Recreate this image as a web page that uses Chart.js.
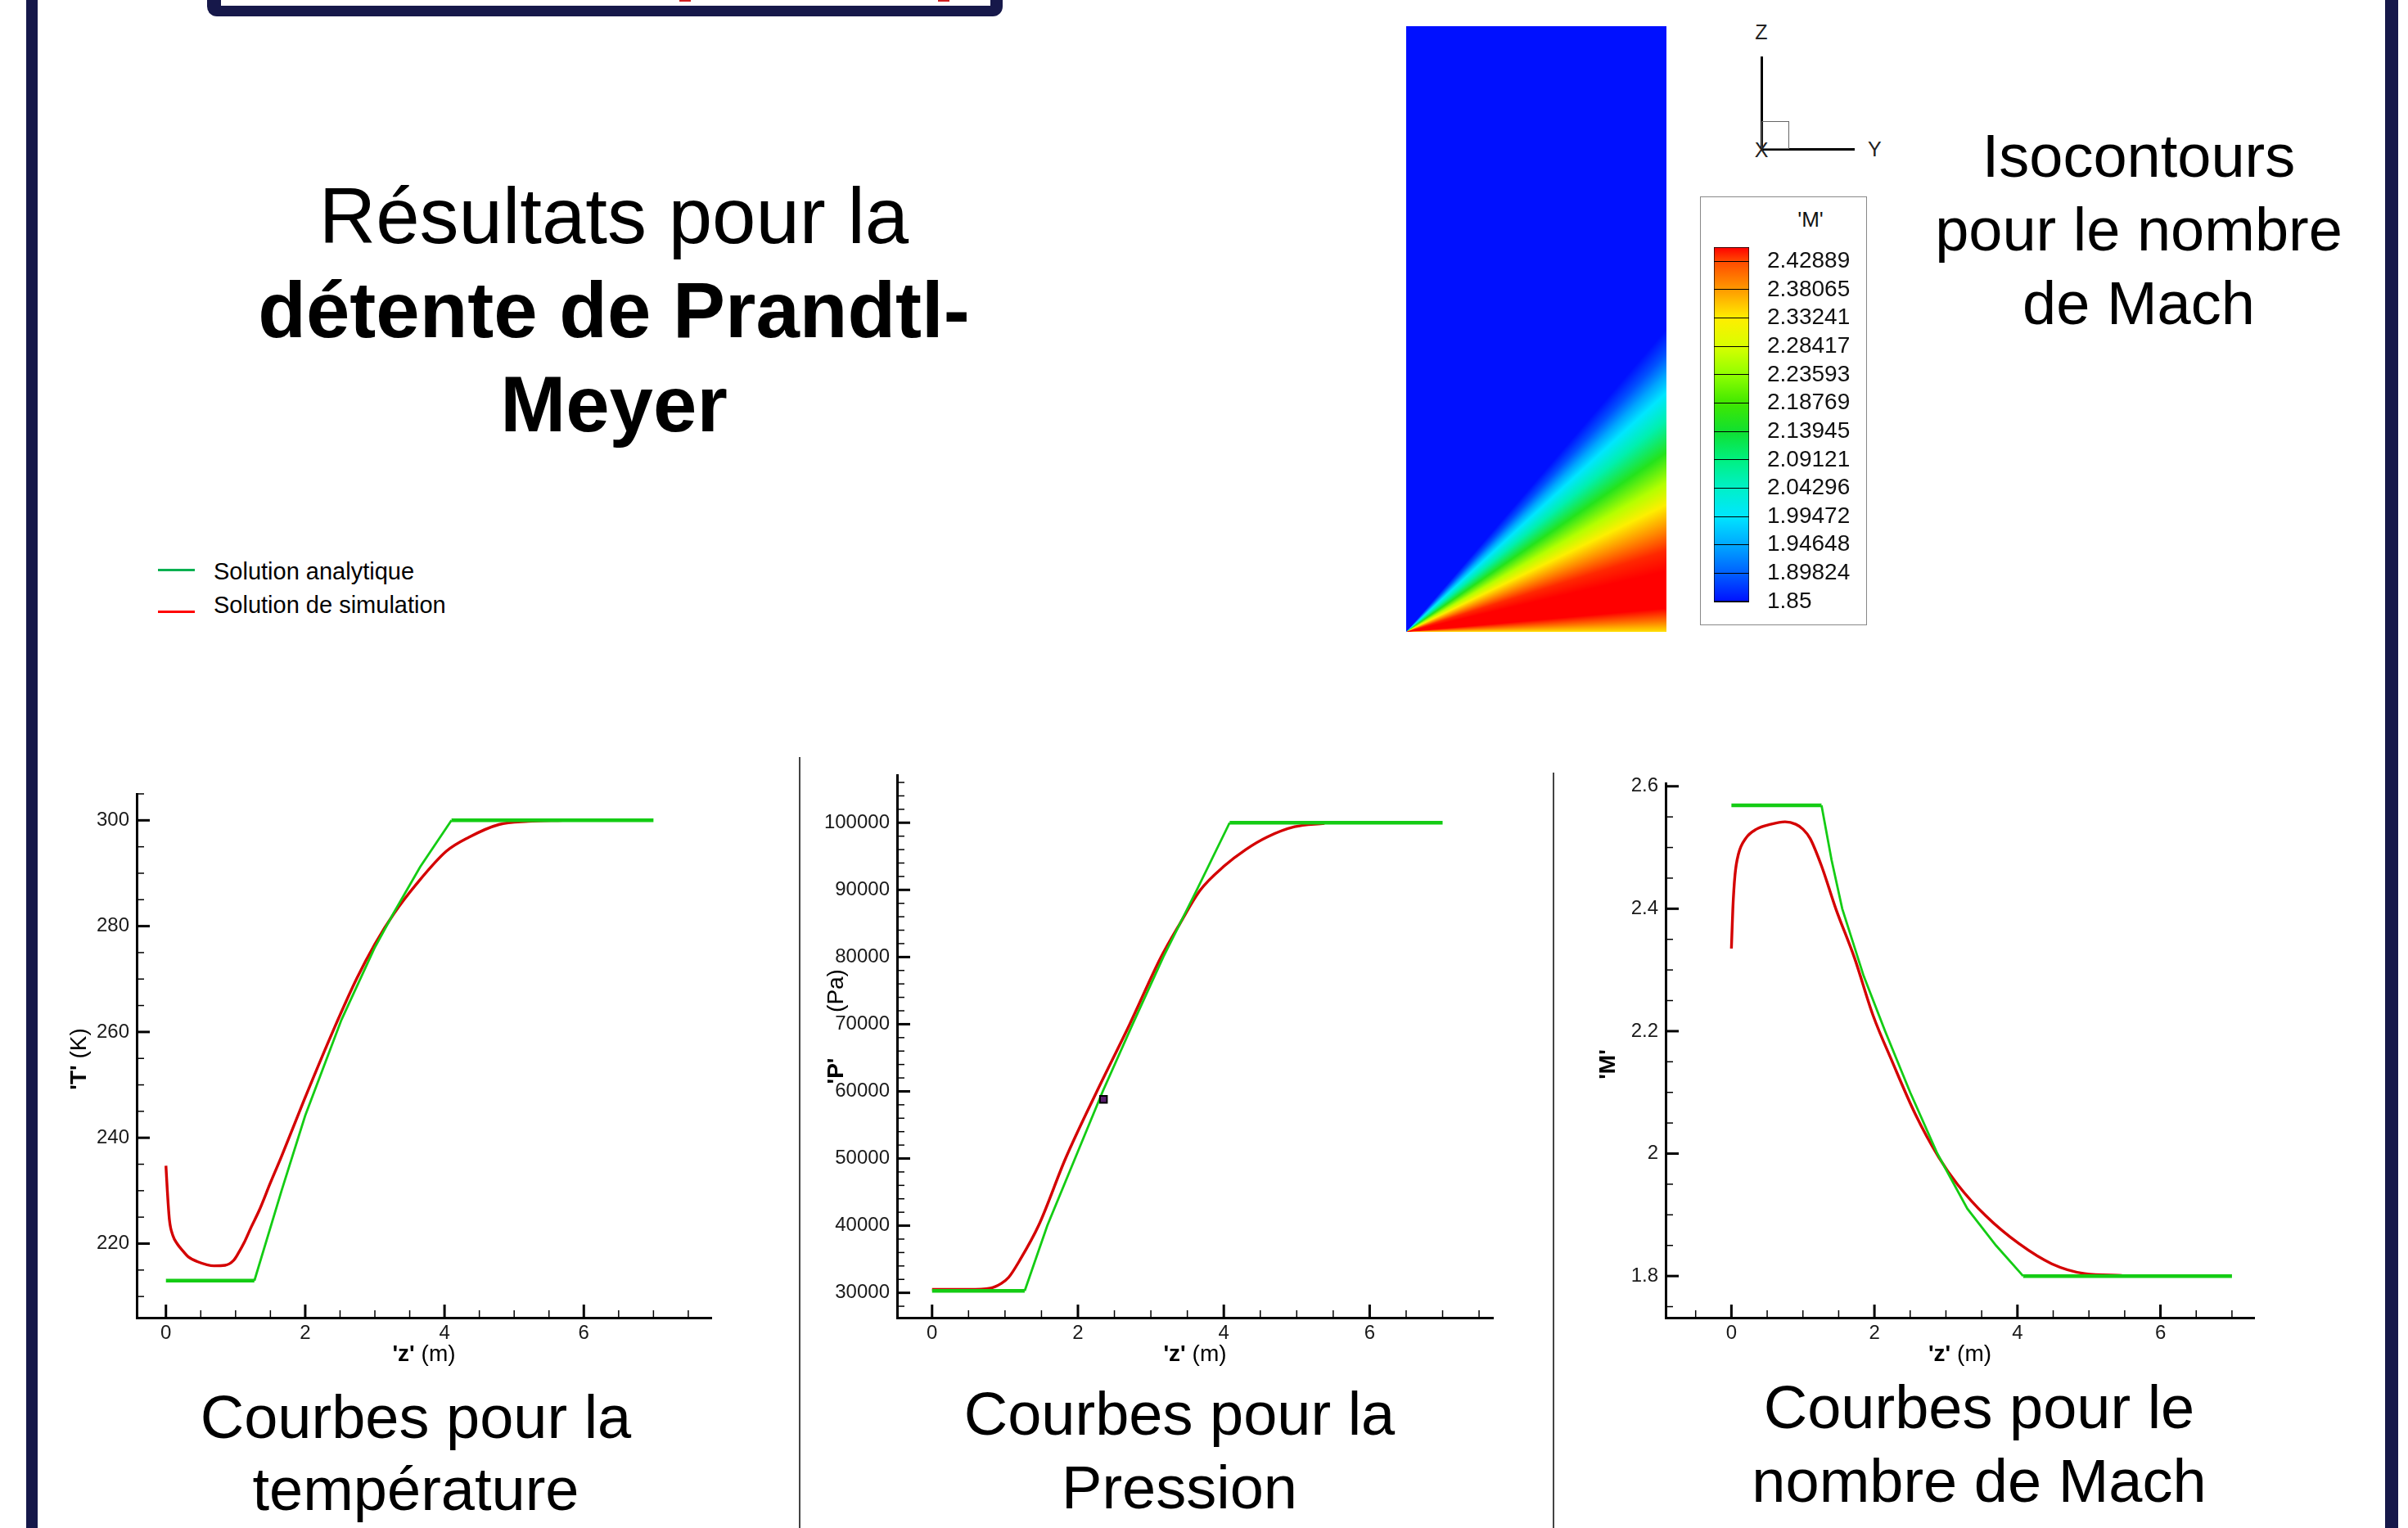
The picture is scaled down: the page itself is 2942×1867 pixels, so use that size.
<!DOCTYPE html>
<html lang="fr">
<head>
<meta charset="UTF-8">
<title>Détente de Prandtl-Meyer</title>
<script src="https://cdn.jsdelivr.net/npm/chart.js"></script>
<style>
  html, body { margin: 0; padding: 0; }
  body {
    width: 2942px; height: 1867px; position: relative; overflow: hidden;
    background: #fff; color: #000;
    font-family: 'Liberation Sans', Arial, sans-serif;
  }
  .abs { position: absolute; }
  .txt { position: absolute; text-align: center; white-space: nowrap; }
  .navy { position: absolute; top: 0; height: 1867px; background: #16184a; }
  .sep { position: absolute; width: 2px; background: #444; }
  canvas { position: absolute; }
</style>
</head>
<body>
<!-- cadre de la diapo -->
<div class="navy" style="left:32px;width:14px"></div>
<div class="navy" style="left:2914px;width:16px"></div>
<div class="abs" style="left:253px;top:-30px;width:972px;height:50px;background:#16184a;border-radius:12px"></div>
<div class="abs" style="left:270px;top:-30px;width:940px;height:37px;background:#fff"></div>
<div class="abs" style="left:830px;top:0;width:14px;height:2px;background:#d02020"></div>
<div class="abs" style="left:1146px;top:0;width:14px;height:2px;background:#d02020"></div>

<div class="txt" style="left:250px;top:206px;width:1000px;font-size:96px;line-height:115px">Résultats pour la<br><b>détente de Prandtl-<br>Meyer</b></div>
<div class="txt" style="left:2313px;top:146px;width:600px;font-size:74px;line-height:90px">Isocontours<br>pour le nombre<br>de Mach</div>

<!-- legende -->
<div class="abs" style="left:193px;top:695px;width:45px;height:3px;background:#00b050"></div>
<div class="abs" style="left:193px;top:746px;width:45px;height:3px;background:#ff0000"></div>
<div class="abs" style="left:261px;top:681px;font-size:29px;line-height:34px;white-space:nowrap">Solution analytique</div>
<div class="abs" style="left:261px;top:722px;font-size:29px;line-height:34px;white-space:nowrap">Solution de simulation</div>

<!-- isocontours -->
<canvas id="cFan" width="318" height="740" style="left:1718px;top:32px"></canvas>
<div class="abs" style="left:2151px;top:69px;width:3px;height:115px;background:#000"></div>
<div class="abs" style="left:2151px;top:181px;width:115px;height:3px;background:#000"></div>
<div class="abs" style="left:2152px;top:148px;width:34px;height:34px;border:1px solid #666;box-sizing:border-box"></div>
<div class="txt" style="left:2132px;top:24px;width:40px;font-size:25px;line-height:30px;color:#222">Z</div>
<div class="txt" style="left:2132px;top:168px;width:40px;font-size:25px;line-height:30px;color:#222">X</div>
<div class="abs" style="left:2282px;top:167px;font-size:25px;line-height:30px;color:#222">Y</div>
<div class="abs" style="left:2077px;top:240px;width:204px;height:524px;border:1.5px solid #888;box-sizing:border-box"></div>
<div class="txt" style="left:2172px;top:253px;width:80px;font-size:26px;line-height:30px;color:#111">'M'</div>
<canvas id="cBar" width="200" height="460" style="left:2088px;top:290px"></canvas>

<!-- courbes -->
<canvas id="cT" width="852" height="720" style="left:37px;top:960px"></canvas>
<canvas id="cP" width="898" height="743" style="left:946px;top:937px"></canvas>
<canvas id="cM" width="859" height="733" style="left:1915px;top:947px"></canvas>
<div class="sep" style="left:976px;top:925px;height:942px"></div>
<div class="sep" style="left:1897px;top:944px;height:923px"></div>

<div class="txt" style="left:208px;top:1688px;width:600px;font-size:74px;line-height:88px">Courbes pour la<br>température</div>
<div class="txt" style="left:1141px;top:1683px;width:600px;font-size:74px;line-height:90px">Courbes pour la<br>Pression</div>
<div class="txt" style="left:2118px;top:1675px;width:600px;font-size:74px;line-height:90px">Courbes pour le<br>nombre de Mach</div>

<script>
// ---- donnees ----
// temperature
const tTicksX = [0, 2, 4, 6];
const tLabelsX = ['0', '2', '4', '6'];
const tTicksY = [220, 240, 260, 280, 300];
const tLabelsY = ['220', '240', '260', '280', '300'];
const tAnaZ = [0, 1.27, 1.66, 2.0, 2.52, 3.0, 3.27, 3.65, 4.1, 7.0];
const tAnaVal = [213, 213, 230, 244.2, 262.3, 276, 282.5, 291.2, 300, 300];
const tSimZ = [0, 0.02, 0.05, 0.1, 0.16, 0.25, 0.32, 0.45, 0.69, 0.85, 0.97, 1.04, 1.12, 1.22, 1.34, 1.5, 1.66, 1.98, 2.41, 2.74, 3.0, 3.27, 3.6, 4.03, 4.35, 4.78, 5.2, 5.7];
const tSimVal = [234.7, 230, 224.5, 221.5, 220, 218.5, 217.5, 216.6, 215.8, 215.9, 216.8, 218.2, 220.1, 223, 226.3, 231.5, 236.5, 247, 260.5, 270.1, 276.6, 282.3, 288, 294.2, 296.8, 299.2, 299.8, 300];

// pression
const pTicksX = [0, 2, 4, 6];
const pLabelsX = ['0', '2', '4', '6'];
const pTicksY = [30000, 40000, 50000, 60000, 70000, 80000, 90000, 100000];
const pLabelsY = ['30000', '40000', '50000', '60000', '70000', '80000', '90000', '100000'];
const pAnaZ = [0, 1.27, 1.58, 1.96, 2.34, 2.75, 3.17, 3.63, 4.08, 7.0];
const pAnaVal = [30300, 30300, 40000, 50000, 60000, 70000, 80000, 90000, 100000, 100000];
const pSimZ = [0, 0.5, 0.8, 0.95, 1.05, 1.2, 1.46, 1.83, 2.26, 2.71, 3.14, 3.4, 3.68, 4.0, 4.3, 4.6, 4.97, 5.38];
const pSimVal = [30500, 30500, 30700, 31400, 32300, 34800, 40000, 50000, 60000, 70000, 80000, 85000, 90000, 93500, 96000, 97900, 99400, 99900];
const pMarkZ = [2.35];
const pMarkVal = [58800];

// nombre de Mach
const mTicksX = [0, 2, 4, 6];
const mLabelsX = ['0', '2', '4', '6'];
const mTicksY = [1.8, 2, 2.2, 2.4, 2.6];
const mLabelsY = ['1.8', '2', '2.2', '2.4', '2.6'];
const mAnaZ = [0, 1.26, 1.4, 1.55, 1.85, 2.15, 2.5, 2.88, 3.3, 3.7, 4.08, 7.0];
const mAnaVal = [2.569, 2.569, 2.48, 2.4, 2.29, 2.2, 2.1, 2.0, 1.91, 1.85, 1.8, 1.8];
const mSimZ = [0, 0.02, 0.05, 0.1, 0.2, 0.35, 0.55, 0.75, 0.9, 1.0, 1.1, 1.26, 1.46, 1.72, 1.98, 2.25, 2.57, 2.9, 3.16, 3.56, 4.02, 4.48, 4.94, 5.46];
const mSimVal = [2.335, 2.4, 2.455, 2.49, 2.515, 2.53, 2.538, 2.542, 2.538, 2.53, 2.515, 2.47, 2.4, 2.32, 2.226, 2.15, 2.065, 1.994, 1.95, 1.898, 1.853, 1.82, 1.804, 1.801];

// isocontours : niveaux de la barre et eventail (hauteur relative au bord droit -> Mach)
const cbLevels = [1.85, 1.89824, 1.94648, 1.99472, 2.04296, 2.09121, 2.13945, 2.18769, 2.23593, 2.28417, 2.33241, 2.38065, 2.42889];
const cbLabels = ['1.85', '1.89824', '1.94648', '1.99472', '2.04296', '2.09121', '2.13945', '2.18769', '2.23593', '2.28417', '2.33241', '2.38065', '2.42889'];
const cbTop = 2.453;
const cmapVal = [1.85, 1.89824, 1.94648, 1.99472, 2.04296, 2.09121, 2.13945, 2.18769, 2.23593, 2.28417, 2.33241, 2.38065, 2.42889, 2.453];
const cmapCol = ['#0010ff', '#0060ff', '#00a8ff', '#00e6ff', '#00f0c8', '#00f080', '#10e030', '#40e800', '#90ff00', '#d8ff00', '#ffee00', '#ff9a00', '#ff4a00', '#ff0000'];
const fanEdge = [0, 0.017, 0.039, 0.10, 0.134, 0.17, 0.21, 0.246, 0.296, 0.35, 0.395, 0.425, 0.46, 0.50, 1.0];
const fanMach = [2.34, 2.40, 2.453, 2.453, 2.44, 2.39, 2.33, 2.26, 2.16, 2.06, 1.995, 1.945, 1.89, 1.85, 1.85];

const GREEN = '#14cc14';
const RED = '#d40000';

Chart.defaults.font.family = "'Liberation Sans', Arial, sans-serif";

function toXY(zs, vs) {
    return zs.map((z, i) => ({ x: z, y: vs[i] }));
}

function hexRgb(h) {
    return [1, 3, 5].map(i => parseInt(h.substr(i, 2), 16));
}

function machColor(v) {
    if (v <= cmapVal[0]) return cmapCol[0];
    for (let i = 1; i < cmapVal.length; i++) {
        if (v <= cmapVal[i]) {
            const f = (v - cmapVal[i - 1]) / (cmapVal[i] - cmapVal[i - 1]);
            const a = hexRgb(cmapCol[i - 1]), b = hexRgb(cmapCol[i]);
            const c = a.map((x, k) => Math.round(x + (b[k] - x) * f));
            return `rgb(${c[0]},${c[1]},${c[2]})`;
        }
    }
    return cmapCol[cmapCol.length - 1];
}

function minorVals(min, max, step) {
    const out = [];
    for (let k = Math.ceil(min / step - 1e-9); k * step <= max + 1e-9; k++) out.push(k * step);
    return out;
}

function drawParts(ctx, parts, x, y, rot) {
    ctx.save();
    ctx.translate(x, y);
    ctx.rotate(rot);
    ctx.textBaseline = 'middle';
    ctx.textAlign = 'left';
    let total = 0;
    const w = parts.map(p => {
        ctx.font = (p.bold ? 'bold ' : '') + "28px 'Liberation Sans', Arial, sans-serif";
        const m = ctx.measureText(p.t).width;
        total += m;
        return m;
    });
    let cx = -total / 2;
    parts.forEach((p, i) => {
        ctx.font = (p.bold ? 'bold ' : '') + "28px 'Liberation Sans', Arial, sans-serif";
        ctx.fillText(p.t, cx, 0);
        cx += w[i];
    });
    ctx.restore();
}

// petites graduations vers l'interieur + titres d'axes
const axisDeco = {
    id: 'axisDeco',
    afterDraw(chart, args, o) {
        const ctx = chart.ctx, xs = chart.scales.x, ys = chart.scales.y, a = chart.chartArea;
        ctx.save();
        ctx.strokeStyle = '#000';
        const seg = (x1, y1, x2, y2, w) => {
            ctx.lineWidth = w;
            ctx.beginPath();
            ctx.moveTo(x1, y1);
            ctx.lineTo(x2, y2);
            ctx.stroke();
        };
        for (const v of minorVals(xs.min, xs.max, o.xMinor)) {
            const px = xs.getPixelForValue(v);
            seg(px, a.bottom, px, a.bottom - 9, 1.5);
        }
        for (const t of xs.ticks) {
            const px = xs.getPixelForValue(t.value);
            seg(px, a.bottom, px, a.bottom - 16, 3);
        }
        for (const v of minorVals(ys.min, ys.max, o.yMinor)) {
            const py = ys.getPixelForValue(v);
            seg(a.left, py, a.left + 9, py, 1.5);
        }
        for (const t of ys.ticks) {
            const py = ys.getPixelForValue(t.value);
            seg(a.left, py, a.left + 16, py, 3);
        }
        ctx.fillStyle = '#000';
        drawParts(ctx, [{ t: "'z'", bold: true }, { t: ' (m)', bold: false }], (a.left + a.right) / 2, a.bottom + 45, 0);
        for (const yt of o.yTitles) {
            drawParts(ctx, yt.parts, a.left + yt.dx, (a.top + a.bottom) / 2 + yt.dy, -Math.PI / 2);
        }
        ctx.restore();
    }
};

function lineChart(id, cfg) {
    const datasets = [
        {
            label: 'Solution analytique', data: toXY(cfg.anaZ, cfg.anaVal), showLine: true,
            borderColor: GREEN, borderWidth: 3, pointRadius: 0, tension: 0,
            // paliers plus epais que la rampe, comme sur la figure
            segment: { borderWidth: s => (s.p0.parsed.y === s.p1.parsed.y ? 4.5 : 2.8) }
        },
        { label: 'Solution de simulation', data: toXY(cfg.simZ, cfg.simVal), showLine: true, borderColor: RED, borderWidth: 3.4, pointRadius: 0, cubicInterpolationMode: 'monotone' }
    ];
    if (cfg.extra) datasets.unshift(cfg.extra);
    return new Chart(document.getElementById(id), {
        type: 'scatter',
        data: { datasets },
        options: {
            responsive: false,
            animation: false,
            devicePixelRatio: 1,
            layout: { padding: { top: 10, right: 20, left: 0, bottom: 0 } },
            plugins: {
                legend: { display: false },
                tooltip: { enabled: false },
                axisDeco: { xMinor: 0.5, yMinor: cfg.yMinor, yTitles: cfg.yTitles }
            },
            scales: {
                x: {
                    type: 'linear', min: cfg.xMin, max: cfg.xMax,
                    afterBuildTicks: s => { s.ticks = cfg.xTicks.map(v => ({ value: v })); },
                    afterFit: s => { s.height = 70; s.paddingLeft = 0; s.paddingRight = 0; },
                    grid: { display: false, drawTicks: false },
                    border: { display: true, color: '#000', width: 3 },
                    ticks: { font: { size: 24 }, color: '#1a1a1a', padding: 5, maxRotation: 0, autoSkip: false, callback: (v, i) => cfg.xLabels[i] }
                },
                y: {
                    type: 'linear', min: cfg.yMin, max: cfg.yMax,
                    afterBuildTicks: s => { s.ticks = cfg.yTicks.map(v => ({ value: v })); },
                    afterFit: s => { s.width = cfg.yAxisW; s.paddingTop = 0; s.paddingBottom = 0; },
                    grid: { display: false, drawTicks: false },
                    border: { display: true, color: '#000', width: 3 },
                    ticks: { font: { size: 24 }, color: '#1a1a1a', padding: 9, autoSkip: false, callback: (v, i) => cfg.yLabels[i] }
                }
            }
        },
        plugins: [axisDeco]
    });
}

lineChart('cT', {
    anaZ: tAnaZ, anaVal: tAnaVal, simZ: tSimZ, simVal: tSimVal,
    xTicks: tTicksX, xLabels: tLabelsX, yTicks: tTicksY, yLabels: tLabelsY,
    xMin: -0.42, xMax: 7.83, yMin: 206, yMax: 305, yMinor: 5, yAxisW: 130,
    yTitles: [{ parts: [{ t: "'T'", bold: true }, { t: ' (K)', bold: false }], dx: -70, dy: 4 }]
});

lineChart('cP', {
    anaZ: pAnaZ, anaVal: pAnaVal, simZ: pSimZ, simVal: pSimVal,
    xTicks: pTicksX, xLabels: pLabelsX, yTicks: pTicksY, yLabels: pLabelsY,
    xMin: -0.48, xMax: 7.69, yMin: 26300, yMax: 107100, yMinor: 2000, yAxisW: 150,
    yTitles: [
        { parts: [{ t: "'P'", bold: true }], dx: -74, dy: 30 },
        { parts: [{ t: '(Pa)', bold: false }], dx: -74, dy: -68 }
    ],
    extra: { label: 'marqueur', data: toXY(pMarkZ, pMarkVal), pointStyle: 'rect', pointRadius: 6, backgroundColor: '#5a1e6e', borderColor: '#000', borderWidth: 2, order: -1 }
});

lineChart('cM', {
    anaZ: mAnaZ, anaVal: mAnaVal, simZ: mSimZ, simVal: mSimVal,
    xTicks: mTicksX, xLabels: mLabelsX, yTicks: mTicksY, yLabels: mLabelsY,
    xMin: -0.92, xMax: 7.31, yMin: 1.732, yMax: 2.605, yMinor: 0.05, yAxisW: 120,
    yTitles: [{ parts: [{ t: "'M'", bold: true }], dx: -70, dy: 17 }]
});

// eventail de Prandtl-Meyer, centre au coin inferieur gauche
const fanPlugin = {
    id: 'fan',
    beforeDatasetsDraw(chart) {
        const { ctx, chartArea: a, scales: { x, y } } = chart;
        const ox = x.getPixelForValue(0), oy = y.getPixelForValue(0);
        const ex = x.getPixelForValue(1);
        const stops = fanEdge.map((h, i) => {
            const th = Math.atan2(oy - y.getPixelForValue(h), ex - ox);
            return { th, col: machColor(fanMach[i]) };
        });
        ctx.save();
        ctx.beginPath();
        ctx.rect(a.left, a.top, a.width, a.height);
        ctx.clip();
        if (ctx.createConicGradient) {
            const g = ctx.createConicGradient(0, ox, oy);
            const blue = machColor(fanMach[fanMach.length - 1]);
            g.addColorStop(0, blue);
            g.addColorStop(0.7, blue);
            for (let i = stops.length - 1; i >= 0; i--) {
                g.addColorStop(Math.min(1, 1 - stops[i].th / (2 * Math.PI)), stops[i].col);
            }
            ctx.fillStyle = g;
            ctx.fillRect(a.left, a.top, a.width, a.height);
        } else {
            ctx.fillStyle = machColor(1.85);
            ctx.fillRect(a.left, a.top, a.width, a.height);
            const R = 4000;
            for (let i = 1; i < stops.length; i++) {
                ctx.fillStyle = stops[i - 1].col;
                ctx.beginPath();
                ctx.moveTo(ox, oy);
                ctx.lineTo(ox + R * Math.cos(stops[i - 1].th), oy - R * Math.sin(stops[i - 1].th));
                ctx.lineTo(ox + R * Math.cos(stops[i].th), oy - R * Math.sin(stops[i].th));
                ctx.closePath();
                ctx.fill();
            }
        }
        ctx.restore();
    }
};

new Chart(document.getElementById('cFan'), {
    type: 'scatter',
    data: { datasets: [] },
    options: {
        responsive: false, animation: false, devicePixelRatio: 1,
        layout: { padding: 0 },
        plugins: { legend: { display: false }, tooltip: { enabled: false } },
        scales: {
            x: { type: 'linear', min: 0, max: 1, display: false },
            y: { type: 'linear', min: 0, max: 1, display: false }
        }
    },
    plugins: [fanPlugin]
});

// barre de couleurs
function barGradient(chart) {
    const { chartArea, scales } = chart;
    if (!chartArea) return '#0000ff';
    const y = scales.y;
    const lo = cmapVal[0], hi = cmapVal[cmapVal.length - 1];
    const g = chart.ctx.createLinearGradient(0, y.getPixelForValue(lo), 0, y.getPixelForValue(hi));
    cmapVal.forEach((v, i) => g.addColorStop((v - lo) / (hi - lo), cmapCol[i]));
    return g;
}

new Chart(document.getElementById('cBar'), {
    type: 'bar',
    data: {
        labels: ["'M'"],
        datasets: [{
            data: [[cbLevels[0], cbTop]],
            backgroundColor: c => barGradient(c.chart),
            borderColor: '#000', borderWidth: 1, borderSkipped: false,
            barPercentage: 1, categoryPercentage: 1
        }]
    },
    options: {
        responsive: false, animation: false, devicePixelRatio: 1,
        layout: { padding: { left: 6, top: 12, bottom: 15, right: 0 } },
        plugins: { legend: { display: false }, tooltip: { enabled: false } },
        scales: {
            x: { display: false },
            y: {
                position: 'right', min: cbLevels[0], max: cbTop,
                afterBuildTicks: s => { s.ticks = cbLevels.map(v => ({ value: v })); },
                afterFit: s => { s.width = 151; s.paddingTop = 0; s.paddingBottom = 0; },
                grid: { display: true, color: '#000', lineWidth: 1, drawTicks: false, z: 1 },
                border: { display: false },
                ticks: { font: { size: 28 }, color: '#111', padding: 22, autoSkip: false, callback: (v, i) => cbLabels[i] }
            }
        }
    }
});
</script>
</body>
</html>
